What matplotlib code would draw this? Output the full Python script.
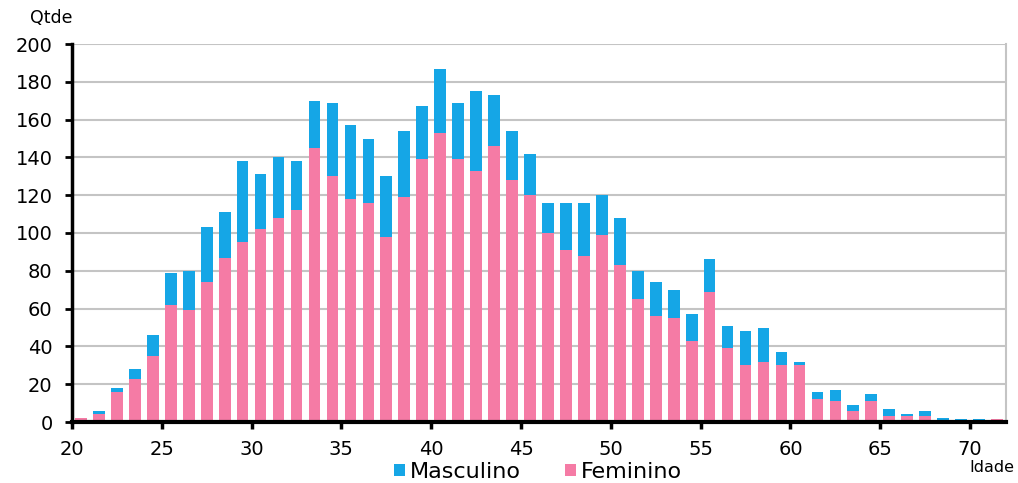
import matplotlib
matplotlib.use("Agg")
import matplotlib.pyplot as plt
import numpy as np

ages = list(range(20, 72))
total = [2, 6, 18, 28, 46, 79, 80, 103, 111, 138,
         131, 140, 138, 170, 169, 157, 150, 130, 154, 167,
         187, 169, 175, 173, 154, 142, 116, 116, 116, 120,
         108, 80, 74, 70, 57, 86, 51, 48, 50, 37,
         32, 16, 17, 9, 15, 7, 4, 6, 2, 1.5,
         1.5, 1.5]
feminino = [2, 4, 16, 23, 35, 62, 59, 74, 87, 95,
            102, 108, 112, 145, 130, 118, 116, 98, 119, 139,
            153, 139, 133, 146, 128, 120, 100, 91, 88, 99,
            83, 65, 56, 55, 43, 69, 39, 30, 32, 30,
            30, 12, 11, 6, 11, 3, 3, 3, 0.5, 0,
            0, 1.5]
masculino = [t - f for t, f in zip(total, feminino)]
xtick_vals = [20, 25, 30, 35, 40, 45, 50, 55, 60, 65, 70]
ytick_vals = list(range(0, 201, 20))

blue = "#15a6e6"
pink = "#f57ba5"

plt.rcParams['font.family'] = ['DejaVu Sans']

fig = plt.figure(figsize=(10.18, 4.83), dpi=100)
ax = fig.add_axes([72/1018, 1-422/483, (1006-72)/1018, (422-44)/483])

x = np.array(ages) + 0.5
w = 0.65
ax.bar(x, feminino, width=w, color=pink, label="Feminino", zorder=3)
ax.bar(x, masculino, bottom=feminino, width=w, color=blue, label="Masculino", zorder=3)

ax.set_xlim(20, 72)
ax.set_ylim(0, 200)
ax.set_yticks(ytick_vals)
ax.set_xticks(xtick_vals)
ax.tick_params(axis='y', labelsize=14, length=5, width=2, direction='out', pad=9, colors='black')
ax.tick_params(axis='x', labelsize=14, length=5, width=2.5, direction='out', pad=8)
ax.yaxis.grid(True, color="#c4c4c4", linewidth=1.5, zorder=0)
ax.set_axisbelow(True)

ax.spines['left'].set_linewidth(2.5)
ax.spines['left'].set_color('black')
ax.spines['bottom'].set_linewidth(3)
ax.spines['bottom'].set_color('black')
ax.spines['bottom'].set_zorder(5)
ax.spines['right'].set_color('#c4c4c4')
ax.spines['right'].set_linewidth(1.5)
ax.spines['top'].set_visible(False)

fig.text(51/1018, 1-18/483, "Qtde", fontsize=12.5, ha='center', va='center')
fig.text(992/1018, 1-467/483, "Idade", fontsize=11.5, ha='center', va='center')

handles, labels = ax.get_legend_handles_labels()
leg = fig.legend(handles[::-1], labels[::-1], loc='center', bbox_to_anchor=(538/1018, 1-472/483),
                 ncol=2, frameon=False, fontsize=16, handlelength=0.5, handleheight=0.5,
                 handletextpad=0.2, columnspacing=2.0, borderpad=0)

fig.savefig("out.png", dpi=100)
